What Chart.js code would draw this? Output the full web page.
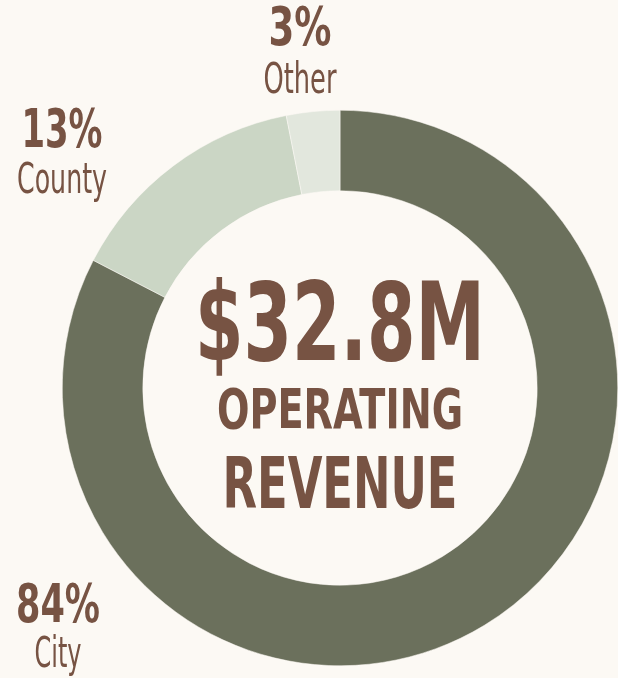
<!DOCTYPE html>
<html>
<head>
<meta charset="utf-8">
<script src="https://cdn.jsdelivr.net/npm/chart.js@4/dist/chart.umd.min.js"></script>
<style>
  html, body { margin: 0; padding: 0; background: #fcf9f4; }
  #wrap { width: 618px; height: 678px; position: relative; }
</style>
</head>
<body>
<div id="wrap"><canvas id="revenueChart" width="618" height="678"></canvas></div>
<script>
// Revenue sources
const categories = ['City', 'County', 'Other'];
// segment sizes as drawn in the picture (%)
const shares = [82.6, 14.3, 3.1];
// percent labels as printed
const shareLabels = ['84%', '13%', '3%'];
const segmentColors = ['#6b705c', '#cbd6c5', '#e2e7dd'];
const totalLabel = '$32.8M';
const centerLines = ['OPERATING', 'REVENUE'];

const TEXT = '#775343';
const FONT = '"Liberation Sans Narrow", "DejaVu Sans Condensed", "Liberation Sans", sans-serif';

// draws text squeezed to a target width, cap height set through font size
function fitText(ctx, text, cx, baseline, size, weight, width) {
  ctx.save();
  ctx.font = weight + ' ' + size + 'px ' + FONT;
  const w = ctx.measureText(text).width;
  ctx.translate(cx, baseline);
  ctx.scale(width / w, 1);
  ctx.textAlign = 'center';
  ctx.textBaseline = 'alphabetic';
  ctx.fillStyle = TEXT;
  ctx.fillText(text, 0, 0);
  ctx.restore();
}

// label layout: [cx, pct baseline, name baseline, pct width, name width]
const labelPos = {
  City:   [58, 622, 667, 84, 47],
  County: [62, 147, 193, 81, 90],
  Other:  [300, 45, 93, 63, 73]
};

const textPlugin = {
  id: 'revenueText',
  afterDraw(chart) {
    const ctx = chart.ctx;
    const arc = chart.getDatasetMeta(0).data[0];
    const cx = arc.x;
    fitText(ctx, totalLabel, cx, 360, 109, 'bold', 290);
    fitText(ctx, centerLines[0], cx, 428, 56, 'bold', 246);
    fitText(ctx, centerLines[1], cx, 508, 71, 'bold', 235);

    categories.forEach((name, i) => {
      const p = labelPos[name];
      fitText(ctx, shareLabels[i], p[0], p[1], 54, 'bold', p[3]);
      fitText(ctx, name, p[0], p[2], 42, 'normal', p[4]);
    });
  }
};

new Chart(document.getElementById('revenueChart').getContext('2d'), {
  type: 'doughnut',
  data: {
    labels: categories,
    datasets: [{
      data: shares,
      backgroundColor: segmentColors,
      borderColor: '#fcf9f4',
      borderWidth: 0.5
    }]
  },
  options: {
    responsive: false,
    animation: false,
    cutout: '71%',
    layout: { padding: { left: 62, right: 0, top: 110, bottom: 12 } },
    plugins: {
      legend: { display: false },
      tooltip: { enabled: false }
    }
  },
  plugins: [textPlugin]
});
</script>
</body>
</html>
